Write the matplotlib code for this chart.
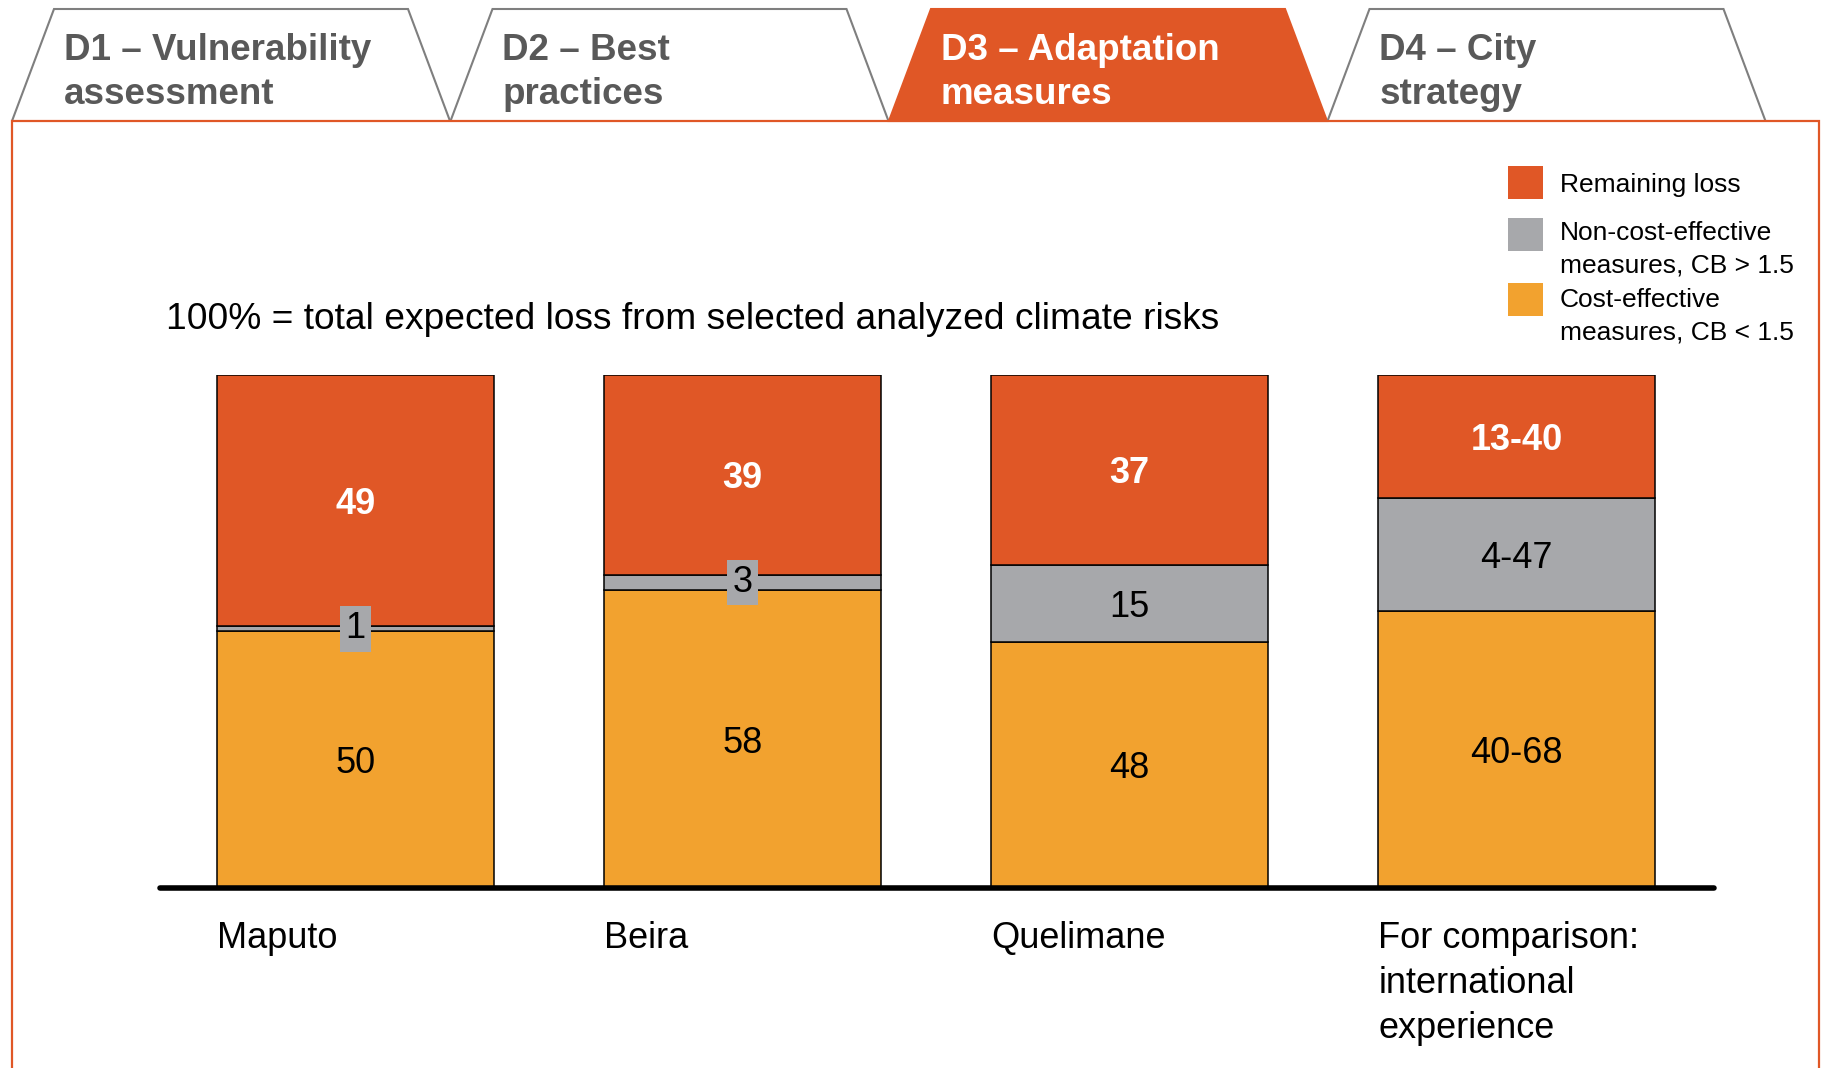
import numpy as np
import matplotlib
matplotlib.use('Agg')
import matplotlib.pyplot as plt
from matplotlib.patches import Polygon, Rectangle

plt.rcParams['font.family'] = ['Liberation Sans', 'DejaVu Sans']

# data
cities = ['Maputo', 'Beira', 'Quelimane', 'For comparison:\ninternational\nexperience']
cost_effective = [50, 58, 48, 54]
non_cost_effective = [1, 3, 15, 22]
remaining_loss = [49, 39, 37, 24]
cost_effective_lbl = ['50', '58', '48', '40-68']
non_cost_effective_lbl = ['1', '3', '15', '4-47']
remaining_loss_lbl = ['49', '39', '37', '13-40']
series_names = ['Remaining loss',
                'Non-cost-effective\nmeasures, CB > 1.5',
                'Cost-effective\nmeasures, CB < 1.5']
tab_labels = ['D1 – Vulnerability\nassessment', 'D2 – Best\npractices',
              'D3 – Adaptation\nmeasures', 'D4 – City\nstrategy']
active_tab = 2
subtitle = '100% = total expected loss from selected analyzed climate risks'

ORANGE = '#E05726'
GREY = '#A7A8AB'
YELLOW = '#F2A22F'
TAB_TEXT = '#595959'
TAB_EDGE = '#7F7F7F'

W, H = 1824, 1068
fig = plt.figure(figsize=(W / 100, H / 100), dpi=100)

# background axes in pixel coords for tabs, frame, legend
bg = fig.add_axes([0, 0, 1, 1])
bg.set_xlim(0, W)
bg.set_ylim(H, 0)
bg.axis('off')


def draw_lines(axis, x, y0, text, step, **kw):
    # one text per line, so line spacing is exact
    for k, line in enumerate(text.split('\n')):
        axis.text(x, y0 + k * step, line, va='baseline', **kw)


# tabs
tab_x0, tab_w, tab_step, inset = 12, 438, 438.5, 42
tab_top, tab_bot = 9, 121
for i, lbl in enumerate(tab_labels):
    left = tab_x0 + i * tab_step
    pts = [(left, tab_bot), (left + inset, tab_top),
           (left + tab_w - inset, tab_top), (left + tab_w, tab_bot)]
    if i == active_tab:
        bg.add_patch(Polygon(pts, closed=True, fc=ORANGE, ec=ORANGE, lw=1.5))
        col = 'white'
    else:
        bg.add_patch(Polygon(pts, closed=False, fc='white', ec=TAB_EDGE, lw=1.5))
        col = TAB_TEXT
    draw_lines(bg, left + 52, 60, lbl, 44, fontsize=26.5, fontweight='bold', color=col)

# orange frame
bg.plot([12, 12, 1819, 1819], [H + 5, tab_bot, tab_bot, H + 5], color=ORANGE, lw=1.6,
        solid_joinstyle='miter')

# subtitle
bg.text(166, 329, subtitle, fontsize=26.7, va='baseline', color='black')

# legend
leg_colors = [ORANGE, GREY, YELLOW]
leg_sq_top = [166, 218, 283]
leg_txt_y = [192, 240, 307]
for name, c, top, ty in zip(series_names, leg_colors, leg_sq_top, leg_txt_y):
    bg.add_patch(Rectangle((1508, top), 35, 33, fc=c, ec='none'))
    draw_lines(bg, 1560, ty, name, 32.5, fontsize=19, color='black')

# bar axes
ax = fig.add_axes([160 / W, 1 - 888 / H, (1714 - 160) / W, (888 - 374.6) / H])
ax.patch.set_alpha(0)
ax.set_xlim(-0.506, 3.51)
ax.set_ylim(0, 100)
ax.axis('off')

x = np.arange(len(cities))
w = 0.716
ce = np.array(cost_effective)
nce = np.array(non_cost_effective)
rl = np.array(remaining_loss)

b_ce = ax.bar(x, ce, w, color=YELLOW, edgecolor='black', linewidth=1.1)
b_nce = ax.bar(x, nce, w, bottom=ce, color=GREY, edgecolor='black', linewidth=1.1)
b_rl = ax.bar(x, rl, w, bottom=ce + nce, color=ORANGE, edgecolor='black', linewidth=1.1)

ax.axhline(0, xmin=0, xmax=1, color='black', lw=4, solid_capstyle='round', clip_on=False)

labels = []
labels += ax.bar_label(b_ce, labels=cost_effective_lbl, label_type='center', fontsize=26,
                       color='black')
labels += ax.bar_label(b_rl, labels=remaining_loss_lbl, label_type='center', fontsize=26,
                       color='white', fontweight='bold')
nce_txt = ax.bar_label(b_nce, labels=non_cost_effective_lbl, label_type='center',
                       fontsize=26, color='black')
for t, v in zip(nce_txt, non_cost_effective):
    if v < 5:
        # thin segment: label sits in a grey box over the bar
        t.set_bbox(dict(boxstyle='square,pad=0.15', fc=GREY, ec='none'))
    else:
        labels.append(t)
for t in labels:
    t.set_va('center_baseline')

# category labels under the baseline
for i, name in enumerate(cities):
    for k, line in enumerate(name.split('\n')):
        ax.annotate(line, xy=(x[i] - w / 2, 0), xytext=(0, -(60 + 45 * k) * 0.72),
                    textcoords='offset points', ha='left', va='baseline',
                    fontsize=26, color='black', annotation_clip=False)

fig.savefig('out.png', dpi=100)
